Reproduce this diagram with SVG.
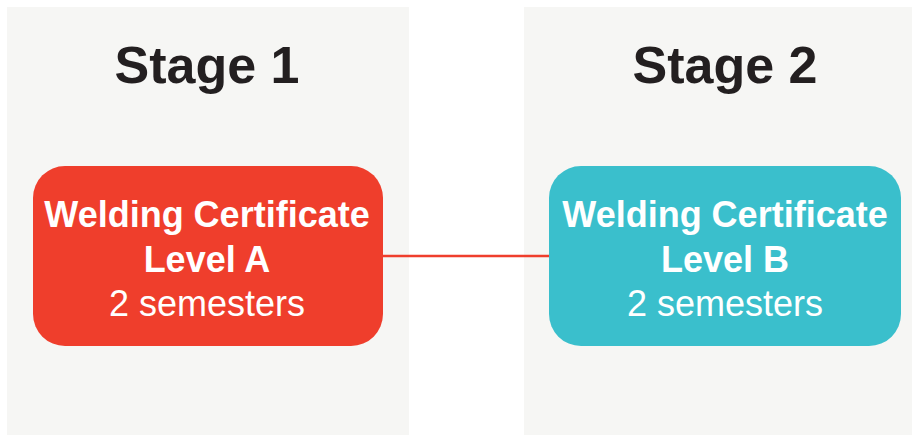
<svg xmlns="http://www.w3.org/2000/svg" width="912" height="435" viewBox="0 0 912 435">
<style>
.panel{fill:#F6F6F4}
.title{font-family:"Liberation Sans",Arial,sans-serif;font-weight:bold;font-size:52px;fill:#231F20;text-anchor:middle}
.node text{font-family:"Liberation Sans",Arial,sans-serif;font-size:36px;fill:#FFFFFF;text-anchor:middle}
.b{font-weight:bold}
</style>
<rect width="912" height="435" fill="#FFFFFF"/>
<g id="stage1">
<rect class="panel" x="7" y="7" width="402" height="428"/>
<text class="title" x="207" y="83">Stage 1</text>
</g>
<g id="stage2">
<rect class="panel" x="524" y="7" width="402" height="428"/>
<text class="title" x="725" y="83">Stage 2</text>
</g>
<g id="connectors">
<line x1="383" y1="256" x2="549" y2="256" stroke="#EF3E2C" stroke-width="2.5"/>
</g>
<g id="nodeA" class="node">
<rect x="33" y="166" width="350" height="180" rx="32" fill="#EF3E2C"/>
<text class="b" x="207" y="227">Welding Certificate</text>
<text class="b" x="207" y="272">Level A</text>
<text x="207" y="316">2 semesters</text>
</g>
<g id="nodeB" class="node">
<rect x="549" y="166" width="352" height="180" rx="32" fill="#3ABFCC"/>
<text class="b" x="725" y="227">Welding Certificate</text>
<text class="b" x="725" y="272">Level B</text>
<text x="725" y="316">2 semesters</text>
</g>
</svg>
